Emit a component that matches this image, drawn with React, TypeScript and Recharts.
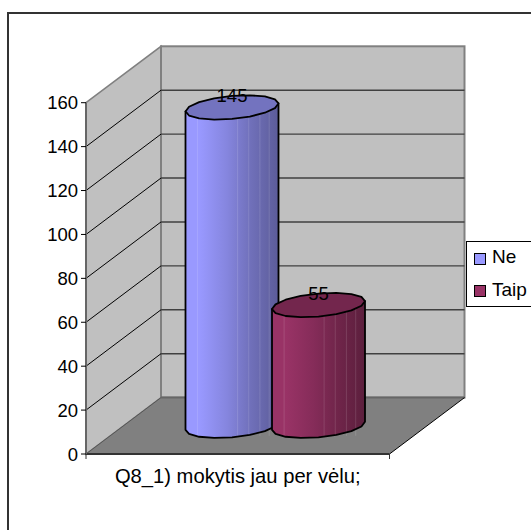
import React from 'react';
import { BarChart, Bar, XAxis, YAxis, Legend, LabelList } from 'recharts';

const categories = ['Q8_1) mokytis jau per vėlu;'];
const neValues = [145];
const taipValues = [55];
const yTicks = [0, 20, 40, 60, 80, 100, 120, 140, 160];
const seriesNames = ['Ne', 'Taip'];
const seriesColors = ['#9999ff', '#993366'];

const chartData = categories.map((name, i) => ({
  name,
  Ne: neValues[i],
  Taip: taipValues[i],
}));

const FONT = '"Liberation Sans", Arial, sans-serif';
const WIDTH = 531;
const HEIGHT = 530;
const LEFT = 86;
const RIGHT = 389.5;
const TOP = 102.7;
const BOTTOM = 454;
// vector from the front plane to the back wall
const DX = 75;
const DY = -56.4;
const MAX = yTicks[yTicks.length - 1];

const yPos = (v: number) => BOTTOM - (v / MAX) * (BOTTOM - TOP);

const pts = (list: number[][]) => list.map((p) => p.join(',')).join(' ');

function darken(hex: string, k: number): string {
  const n = parseInt(hex.slice(1), 16);
  const c = [(n >> 16) & 255, (n >> 8) & 255, n & 255].map((v) => Math.round(v * k));
  return `rgb(${c.join(',')})`;
}

// Walls, floor and the gridlines that run round them
function Walls() {
  return (
    <g>
      <polygon
        points={pts([[LEFT, TOP], [LEFT + DX, TOP + DY], [LEFT + DX, BOTTOM + DY], [LEFT, BOTTOM]])}
        fill="#c0c0c0"
        stroke="#808080"
        strokeWidth={1.5}
      />
      <rect
        x={LEFT + DX}
        y={TOP + DY}
        width={RIGHT - LEFT}
        height={BOTTOM - TOP}
        fill="#c0c0c0"
        stroke="#808080"
        strokeWidth={2}
      />
      {yTicks.slice(1, -1).map((v) => (
        <g key={v}>
          <line x1={LEFT} y1={yPos(v)} x2={LEFT + DX} y2={yPos(v) + DY} stroke="#000" />
          <line x1={LEFT + DX} y1={yPos(v) + DY} x2={RIGHT + DX} y2={yPos(v) + DY} stroke="#404040" strokeWidth={1.4} />
        </g>
      ))}
      <polygon
        points={pts([[LEFT, BOTTOM], [RIGHT, BOTTOM], [RIGHT + DX, BOTTOM + DY], [LEFT + DX, BOTTOM + DY]])}
        fill="#808080"
      />
      <line x1={LEFT + DX} y1={BOTTOM + DY} x2={RIGHT + DX} y2={BOTTOM + DY} stroke="#666" strokeWidth={2} />
      <line x1={RIGHT} y1={BOTTOM} x2={RIGHT + DX} y2={BOTTOM + DY} stroke="#000" />
      <line x1={LEFT} y1={BOTTOM} x2={LEFT + DX} y2={BOTTOM + DY} stroke="#555" />
      <line x1={LEFT} y1={BOTTOM} x2={LEFT} y2={BOTTOM + 5} stroke="#333" />
      <line x1={RIGHT} y1={BOTTOM} x2={RIGHT} y2={BOTTOM + 5} stroke="#333" />
    </g>
  );
}

const SIDES = 16;
const shadeStops = [[0, 1], [0.15, 1], [0.45, 0.87], [0.7, 0.73], [1, 0.6]];
const facetLines = [0.13, 0.56, 0.68, 0.8, 0.9];

// Cylinder standing half way into the depth of the plot
function Cylinder(props: any) {
  const { x, y, width, height, fill, index, dataKey } = props;
  const rx = width / 2;
  const cx = x + rx + DX / 2;
  const topY = y + DY / 2;
  const baseY = y + height + DY / 2;
  const ring = (cy: number, from: number, to: number) => {
    const out: number[][] = [];
    for (let i = from; i >= to; i--) {
      const t = (2 * Math.PI * i) / SIDES;
      out.push([cx + rx * Math.cos(t), cy + 11.5 * Math.sin(t) - 4 * Math.cos(t)]);
    }
    return out;
  };
  const id = `side-${dataKey}-${index}`;
  const side = [...ring(baseY, SIDES / 2, 0), ...ring(topY, 0, 0), ...ring(topY, SIDES / 2, SIDES / 2)];
  return (
    <g>
      <defs>
        <linearGradient id={id} x1="0" y1="0" x2="1" y2="0">
          {shadeStops.map(([o, k]) => (
            <stop key={o} offset={o} stopColor={darken(fill, k)} />
          ))}
        </linearGradient>
      </defs>
      <polygon points={pts(side)} fill={`url(#${id})`} />
      {facetLines.map((f) => (
        <line
          key={f}
          x1={cx - rx + f * width}
          y1={topY}
          x2={cx - rx + f * width}
          y2={baseY + 10}
          stroke="#fff"
          strokeOpacity={0.13}
        />
      ))}
      <polygon points={pts(side)} fill="none" stroke="#000" strokeWidth={1.8} strokeLinejoin="round" />
      <polygon
        points={pts(ring(topY, SIDES - 1, 0))}
        fill={darken(fill, 0.75)}
        stroke="#000"
        strokeWidth={1.8}
        strokeLinejoin="round"
      />
    </g>
  );
}

function CylinderLabel(props: any) {
  const { x, y, width, value } = props;
  return (
    <text
      x={x + width / 2 + DX / 2}
      y={y + DY / 2 - 5.5}
      textAnchor="middle"
      fontFamily={FONT}
      fontSize={18.5}
      fill="#000"
    >
      {value}
    </text>
  );
}

function LegendBox() {
  return (
    <div
      style={{
        width: 65,
        height: 64,
        boxSizing: 'content-box',
        borderTop: '1px solid #000',
        borderBottom: '1px solid #000',
        borderLeft: '1px solid #000',
        background: '#fff',
        position: 'relative',
        fontFamily: FONT,
        fontSize: 19,
        color: '#000',
      }}
    >
      {seriesNames.map((name, i) => (
        <div key={name} style={{ position: 'absolute', left: 7, top: 3 + i * 32.5, display: 'flex', alignItems: 'center', height: 24 }}>
          <span
            style={{
              display: 'inline-block',
              width: 10,
              height: 10,
              marginTop: 3,
              marginRight: 6,
              border: '1px solid #000',
              background: seriesColors[i],
            }}
          />
          {name}
        </div>
      ))}
    </div>
  );
}

export default function App() {
  return (
    <div style={{ position: 'absolute', left: 0, top: 0, width: WIDTH, height: HEIGHT, background: '#fff', overflow: 'hidden' }}>
      <div style={{ position: 'absolute', left: 7, top: 12, width: WIDTH, height: HEIGHT, borderTop: '2px solid #333', borderLeft: '2px solid #333' }} />
      <BarChart
        width={WIDTH}
        height={HEIGHT}
        data={chartData}
        margin={{ top: TOP, right: WIDTH - RIGHT, bottom: 0, left: 0 }}
        barSize={93}
        barGap={-6.5}
        style={{ position: 'absolute', left: 0, top: 0 }}
      >
        <Walls />
        <XAxis
          dataKey="name"
          axisLine={{ stroke: '#333', strokeWidth: 2 }}
          tickLine={false}
          tick={{ fontFamily: FONT, fontSize: 20.2, fill: '#000' }}
          tickMargin={9}
          interval={0}
          height={HEIGHT - BOTTOM}
        />
        <YAxis
          domain={[0, MAX]}
          ticks={yTicks}
          interval={0}
          width={LEFT}
          axisLine={{ stroke: '#666', strokeWidth: 2 }}
          tickLine={{ stroke: '#000' }}
          tickSize={5}
          tickMargin={3}
          tick={{ fontFamily: FONT, fontSize: 18.5, fill: '#000' }}
        />
        <Bar dataKey="Ne" fill={seriesColors[0]} shape={Cylinder} isAnimationActive={false}>
          <LabelList dataKey="Ne" content={CylinderLabel} />
        </Bar>
        <Bar dataKey="Taip" fill={seriesColors[1]} shape={Cylinder} isAnimationActive={false}>
          <LabelList dataKey="Taip" content={CylinderLabel} />
        </Bar>
        <Legend
          content={LegendBox}
          layout="vertical"
          align="center"
          verticalAlign="middle"
          wrapperStyle={{ position: 'absolute', left: 466, top: 241, width: 66, height: 66, margin: 0 }}
        />
      </BarChart>
    </div>
  );
}
